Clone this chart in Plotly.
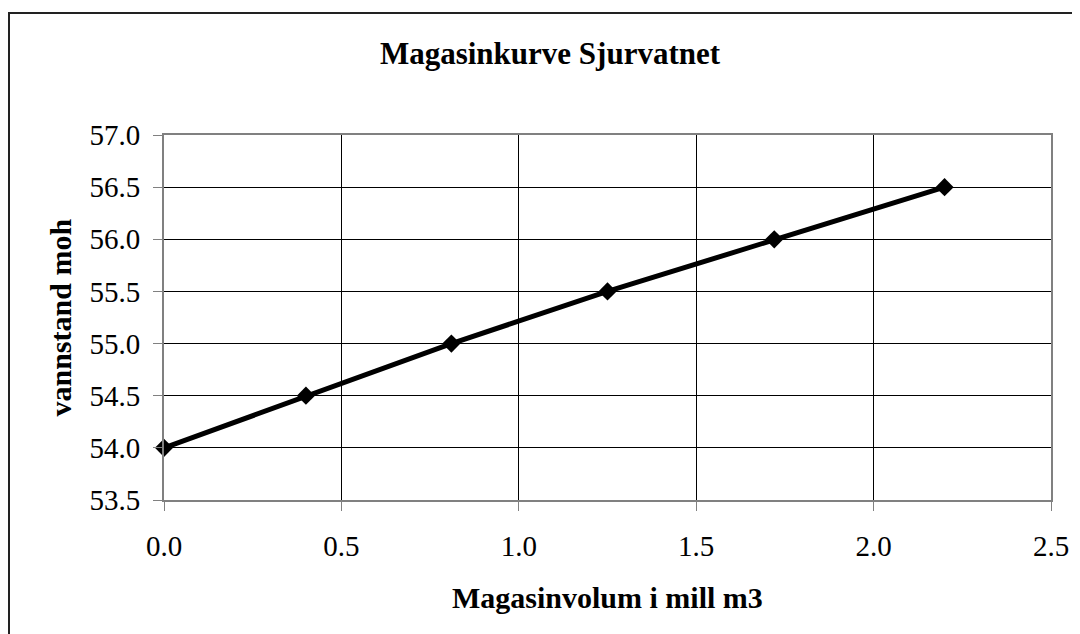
import plotly.graph_objects as go

volume = [0.0, 0.40, 0.81, 1.25, 1.72, 2.20]
level = [54.0, 54.5, 55.0, 55.5, 56.0, 56.5]

title_text = "Magasinkurve Sjurvatnet"
x_title = "Magasinvolum i mill m3"
y_title = "vannstand moh"

# page body has an 8px margin; build the figure to fit the remaining window
OFF = 8
W, H = 1080 - OFF, 634 - OFF
L, T = 164 - OFF, 135 - OFF
R = W - (1051 - OFF)
B = H - (500 - OFF)
pw, ph = W - L - R, H - T - B

FONT = "Liberation Serif, Times New Roman, serif"

fig = go.Figure()
fig.add_trace(go.Scatter(
    x=volume, y=level, mode="lines+markers",
    line=dict(color="black", width=5),
    marker=dict(symbol="diamond", size=14, color="black"),
    showlegend=False, cliponaxis=False,
))

fig.update_layout(
    width=W, height=H,
    margin=dict(l=L, r=R, t=T, b=B),
    paper_bgcolor="white", plot_bgcolor="white",
    font=dict(family=FONT, color="black", size=29),
    title=dict(text="<b>" + title_text + "</b>", x=(550 - OFF) / W, xanchor="center",
               y=1 - (53 - OFF) / H, yanchor="middle", font=dict(size=31, family=FONT)),
    xaxis=dict(range=[0, 2.5], tickvals=[0, 0.5, 1.0, 1.5, 2.0, 2.5],
               ticktext=["0.0", "0.5", "1.0", "1.5", "2.0", "2.5"],
               showgrid=True, gridcolor="black", gridwidth=1,
               showline=True, linecolor="#808080", linewidth=2, mirror=True,
               ticks="outside", ticklen=9, tickcolor="#808080", tickwidth=1,
               ticklabelstandoff=10, zeroline=False,
               tickfont=dict(size=29, family=FONT)),
    yaxis=dict(range=[53.5, 57.0], tickvals=[53.5, 54.0, 54.5, 55.0, 55.5, 56.0, 56.5, 57.0],
               ticktext=["53.5", "54.0", "54.5", "55.0", "55.5", "56.0", "56.5", "57.0"],
               showgrid=True, gridcolor="black", gridwidth=1,
               showline=True, linecolor="#808080", linewidth=2, mirror=True,
               ticks="outside", ticklen=9, tickcolor="#808080", tickwidth=1,
               ticklabelstandoff=7, zeroline=False,
               tickfont=dict(size=29, family=FONT)),
    annotations=[
        dict(text="<b>" + x_title + "</b>", xref="paper", yref="paper",
             x=0.5, y=-(597 - 500) / ph, xanchor="center", yanchor="middle",
             showarrow=False, font=dict(size=30, family=FONT)),
        dict(text="<b>" + y_title + "</b>", xref="paper", yref="paper",
             x=(60 - 164) / pw, y=0.5, xanchor="center", yanchor="middle",
             textangle=-90, showarrow=False, font=dict(size=30, family=FONT)),
    ],
    shapes=[
        dict(type="rect", xref="paper", yref="paper",
             x0=(1 - L) / pw, x1=(1100 - 164) / pw,
             y0=(500 - 660) / ph, y1=(500 - 13) / ph,
             line=dict(color="#222222", width=2), fillcolor="rgba(0,0,0,0)", layer="below"),
    ],
)

fig.write_html("out.html")
